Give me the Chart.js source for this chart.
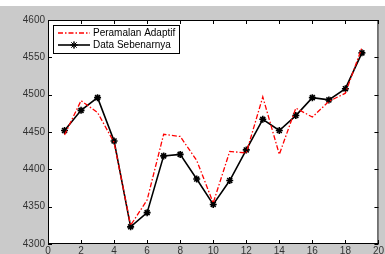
<!DOCTYPE html>
<html>
<head>
<meta charset="utf-8">
<script src="https://cdn.jsdelivr.net/npm/chart.js@4.4.1/dist/chart.umd.min.js"></script>
<style>
  html, body { margin: 0; padding: 0; background: #fff; }
  #wrap { position: absolute; left: 0; top: 6px; width: 385px; height: 248px; }
</style>
</head>
<body>
<div id="wrap"><canvas id="c" width="385" height="248"></canvas></div>
<script>
// x = time index, two series
const periods = [1, 2, 3, 4, 5, 6, 7, 8, 9, 10, 11, 12, 13, 14, 15, 16, 17, 18, 19];
const peramalanAdaptif = [4446, 4492, 4476, 4436, 4325, 4359, 4447, 4444, 4412, 4355, 4424, 4422, 4497, 4420, 4482, 4470, 4491, 4502, 4563];
const dataSebenarnya = [4452, 4479, 4496, 4438, 4323, 4342, 4418, 4420, 4387, 4353, 4385, 4426, 4467, 4452, 4472, 4496, 4493, 4508, 4556];
const xTicks = [0, 2, 4, 6, 8, 10, 12, 14, 16, 18, 20];
const yTicks = [4300, 4350, 4400, 4450, 4500, 4550, 4600];

const toPoints = vals => vals.map((v, i) => ({ x: periods[i], y: v }));

// gray figure background + white axes box
const frame = {
  id: "frame",
  beforeDraw(chart) {
    const { ctx, chartArea: a } = chart;
    ctx.save();
    ctx.fillStyle = "#cacaca";
    ctx.fillRect(0, 0, chart.width, chart.height);
    ctx.fillStyle = "#fff";
    ctx.fillRect(a.left, a.top, a.right - a.left, a.bottom - a.top);
    ctx.restore();
  },
  afterDraw(chart) {
    const { ctx, chartArea: a, scales } = chart;
    ctx.save();
    ctx.strokeStyle = "#000";
    ctx.lineWidth = 1;
    ctx.strokeRect(a.left + 0.5, a.top + 0.5, a.right - a.left - 1, a.bottom - a.top - 1);
    // inward ticks, matlab style
    ctx.beginPath();
    xTicks.forEach(t => {
      const px = Math.round(scales.x.getPixelForValue(t)) + 0.5;
      ctx.moveTo(px, a.bottom); ctx.lineTo(px, a.bottom - 4);
      ctx.moveTo(px, a.top); ctx.lineTo(px, a.top + 4);
    });
    yTicks.forEach(t => {
      const py = Math.round(scales.y.getPixelForValue(t)) + 0.5;
      ctx.moveTo(a.left, py); ctx.lineTo(a.left + 4, py);
      ctx.moveTo(a.right, py); ctx.lineTo(a.right - 4, py);
    });
    ctx.stroke();

    // legend box
    const lx = 53, ly = 19, lw = 126, lh = 28;
    ctx.fillStyle = "#fff";
    ctx.fillRect(lx, ly, lw, lh);
    ctx.strokeRect(lx + 0.5, ly + 0.5, lw, lh);
    ctx.font = "10px 'Liberation Sans', Arial, sans-serif";
    ctx.textBaseline = "middle";
    chart.data.datasets.forEach((ds, i) => {
      const yy = ly + 8 + i * 12;
      ctx.save();
      ctx.strokeStyle = ds.borderColor;
      ctx.lineWidth = ds.borderWidth;
      ctx.setLineDash(ds.borderDash || []);
      ctx.beginPath();
      ctx.moveTo(lx + 5, yy); ctx.lineTo(lx + 37, yy);
      ctx.stroke();
      ctx.restore();
      if (ds.pointRadius > 0) {
        Chart.helpers.drawPoint(ctx, {
          pointStyle: ds.pointStyle, radius: ds.pointRadius,
          borderWidth: ds.pointBorderWidth, rotation: 0
        }, lx + 21, yy);
        ctx.strokeStyle = "#000";
        ctx.fillStyle = "#000";
        ctx.stroke();
      }
      ctx.fillStyle = "#000";
      ctx.fillText(ds.label, lx + 40, yy + 0.5);
    });
    ctx.restore();
  }
};

new Chart(document.getElementById("c"), {
  type: "line",
  data: {
    datasets: [
      {
        label: "Peramalan Adaptif",
        data: toPoints(peramalanAdaptif),
        borderColor: "#ff0000",
        borderWidth: 1.3,
        borderDash: [5, 2, 1.5, 2],
        pointRadius: 0,
        tension: 0
      },
      {
        label: "Data Sebenarnya",
        data: toPoints(dataSebenarnya),
        borderColor: "#000",
        backgroundColor: "#000",
        borderWidth: 1.6,
        pointStyle: "star",
        pointRadius: 3.5,
        pointBorderWidth: 1.6,
        pointBorderColor: "#000",
        tension: 0
      }
    ]
  },
  options: {
    responsive: false,
    animation: false,
    layout: { padding: { top: 14, right: 4, left: 0, bottom: 0 } },
    plugins: { legend: { display: false }, tooltip: { enabled: false } },
    scales: {
      x: {
        type: "linear", min: 0, max: 20,
        afterFit: s => { s.height = 10; },
        afterBuildTicks: s => { s.ticks = xTicks.map(v => ({ value: v })); },
        grid: { display: false, drawTicks: false },
        border: { display: false },
        ticks: { padding: 1, color: "#333", font: { size: 10, family: "'Liberation Sans', Arial" }, maxRotation: 0, callback: v => String(v) }
      },
      y: {
        min: 4300, max: 4600,
        afterFit: s => { s.width = 48; },
        afterBuildTicks: s => { s.ticks = yTicks.map(v => ({ value: v })); },
        grid: { display: false, drawTicks: false },
        border: { display: false },
        ticks: { padding: 3, color: "#333", font: { size: 10, family: "'Liberation Sans', Arial" }, callback: v => String(v) }
      }
    }
  },
  plugins: [frame]
});
</script>
</body>
</html>
